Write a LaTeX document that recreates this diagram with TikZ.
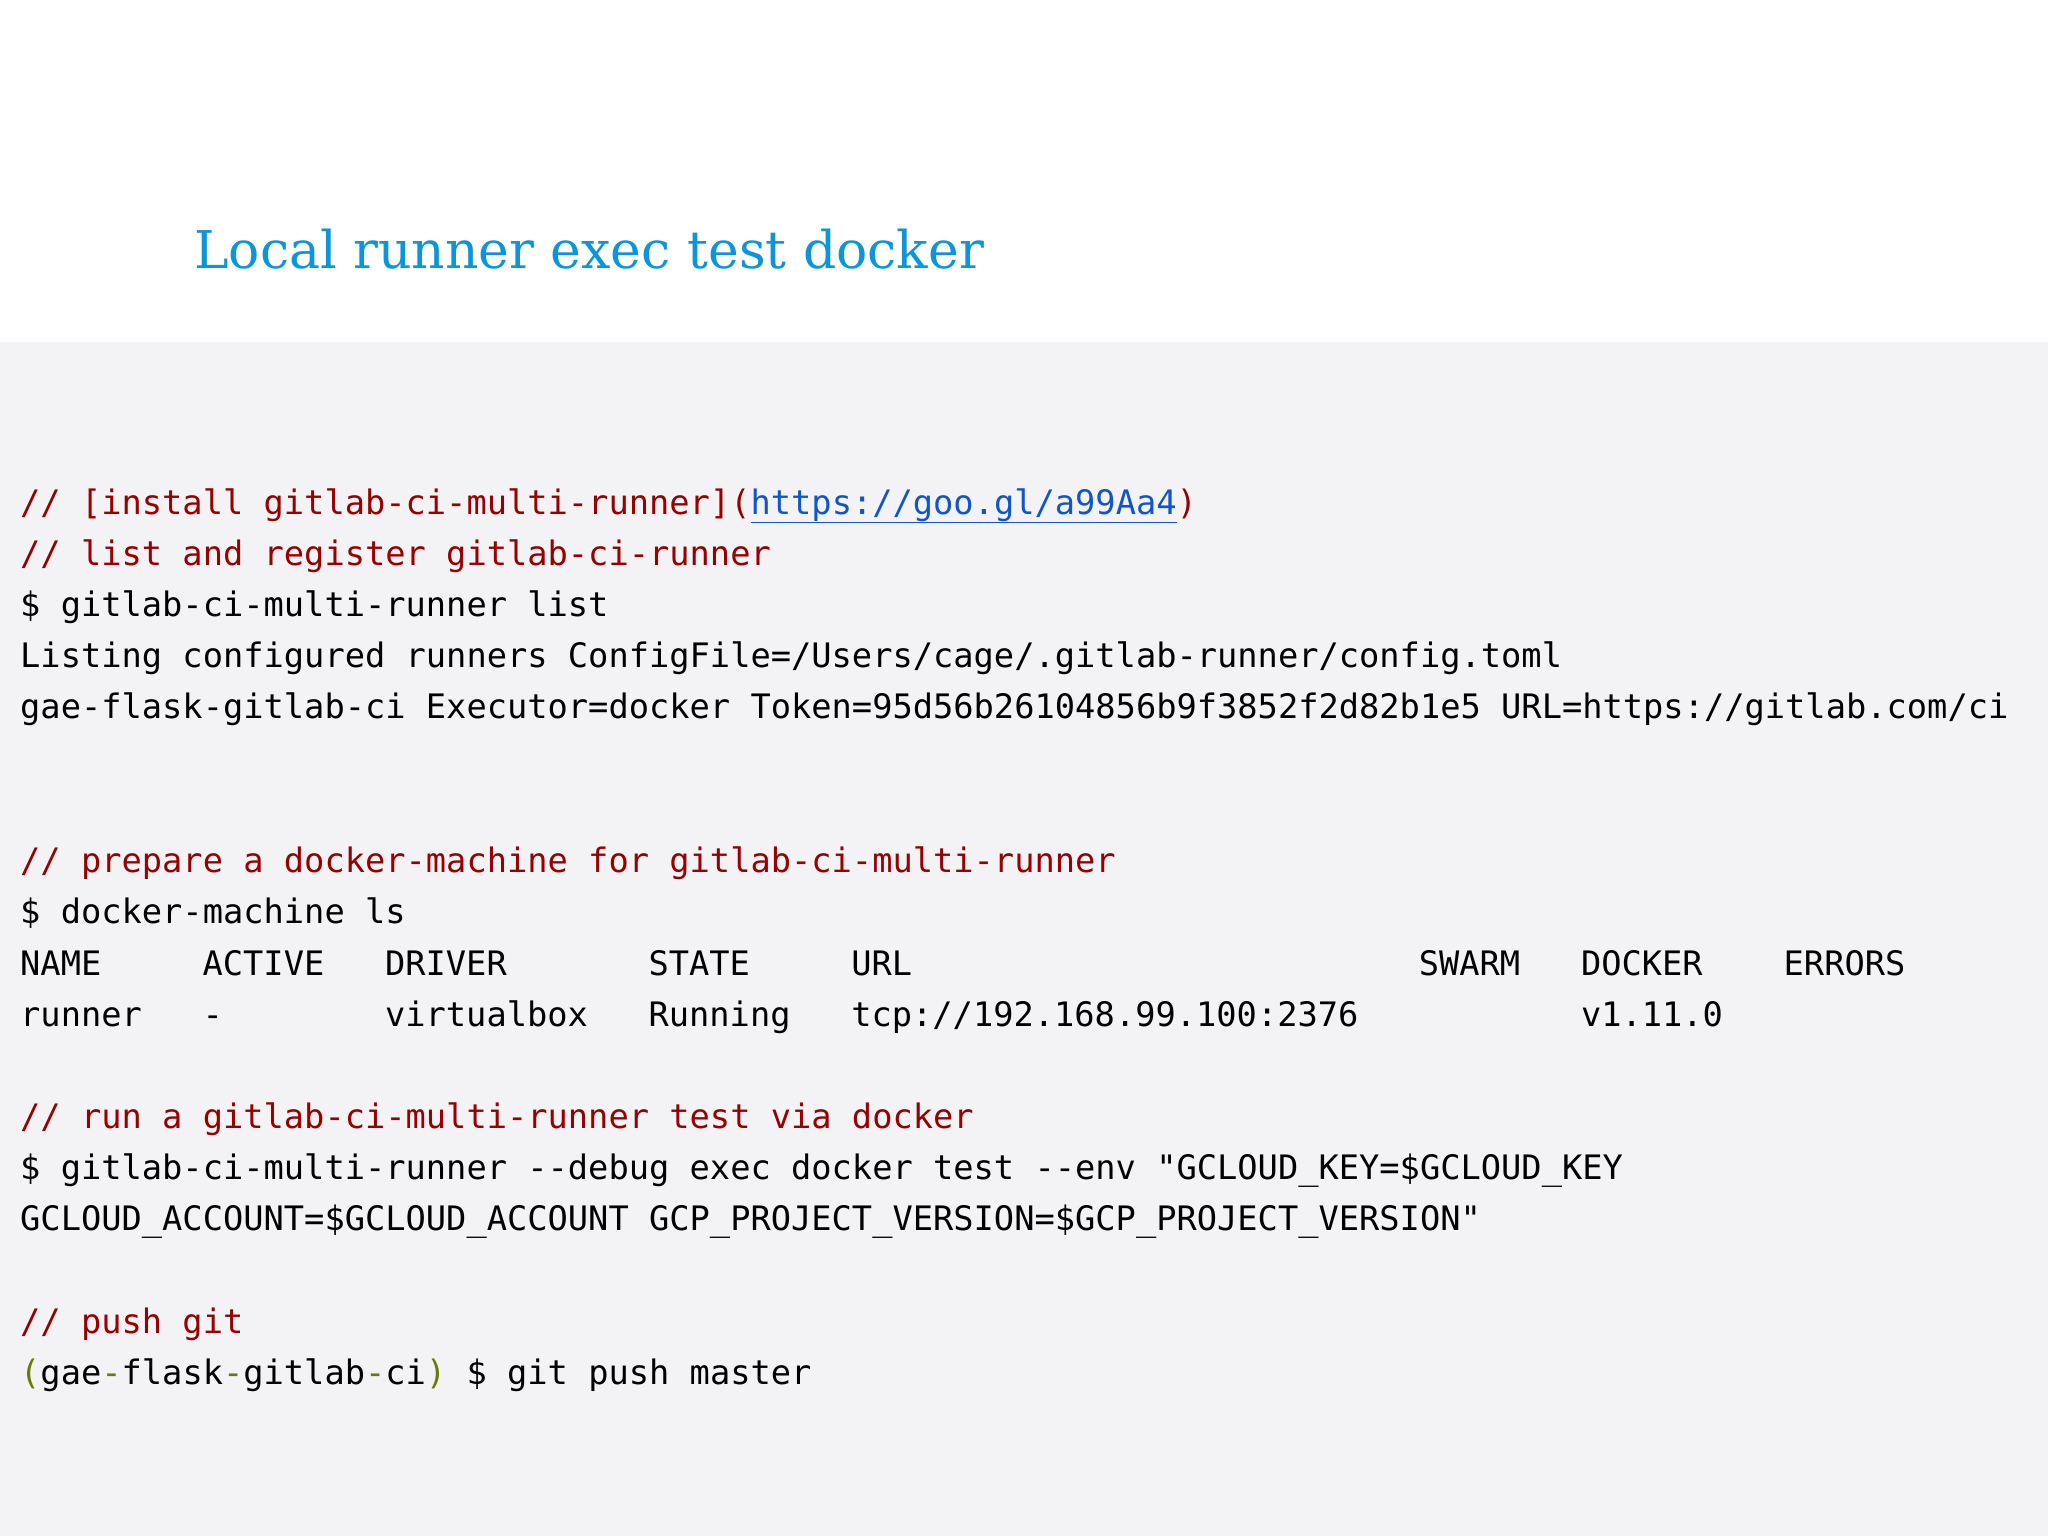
\documentclass[tikz,border=0pt]{standalone}
\usepackage{fontspec}
\newfontfamily\codefont{DejaVu Sans Mono}[Ligatures=NoCommon]
\newfontfamily\titlefont{DejaVu Serif}
\definecolor{bg}{HTML}{F3F3F5}
\definecolor{cm}{HTML}{990000}
\definecolor{lnk}{HTML}{1155CC}
\definecolor{ttl}{HTML}{0B96DC}
\definecolor{olv}{HTML}{6B7A00}
\begin{document}
\begin{tikzpicture}[x=1pt,y=1pt,
  code/.style={anchor=base west,inner sep=0pt,font=\codefont\fontsize{33.7}{40}\selectfont},
  cmt/.style={code,text=cm}]
\useasboundingbox (0,0) rectangle (2048,-1536);
\fill[white] (0,0) rectangle (2048,-342);
\fill[bg] (0,-342) rectangle (2048,-1536);
\node[anchor=base west,inner sep=0pt,text=ttl,font=\titlefont\fontsize{52}{60}\selectfont] (title) at (194,-268) {Local runner exec test docker};
\node[cmt] (l1) at (20,-514) {// [install gitlab-ci-multi-runner](\textcolor{lnk}{\underline{https://goo.gl/a99Aa4}})};
\node[cmt] (l2) at (20,-565) {// list and register gitlab-ci-runner};
\node[code] (l3) at (20,-616) {\$ gitlab-ci-multi-runner list};
\node[code] (l4) at (20,-667) {Listing configured runners ConfigFile=/Users/cage/.gitlab-runner/config.toml};
\node[code] (l5) at (20,-718) {gae-flask-gitlab-ci Executor=docker Token=95d56b26104856b9f3852f2d82b1e5 URL=https://gitlab.com/ci};
\node[cmt] (l6) at (20,-872) {// prepare a docker-machine for gitlab-ci-multi-runner};
\node[code] (l7) at (20,-923) {\$ docker-machine ls};
\foreach \c/\t [count=\i] in {0/NAME,9/ACTIVE,18/DRIVER,31/STATE,41/URL,69/SWARM,77/DOCKER,87/ERRORS}
  \node[code] (h\i) at (20+\c*20.27,-975) {\t};
\foreach \c/\t [count=\i] in {0/runner,9/-,18/virtualbox,31/Running,41/{tcp://192.168.99.100:2376},77/v1.11.0}
  \node[code] (r\i) at (20+\c*20.27,-1026) {\t};
\node[cmt] (l8) at (20,-1128) {// run a gitlab-ci-multi-runner test via docker};
\node[code] (l9) at (20,-1179) {\$ gitlab-ci-multi-runner -{}-debug exec docker test -{}-env "GCLOUD\_KEY=\$GCLOUD\_KEY};
\node[code] (l10) at (20,-1230) {GCLOUD\_ACCOUNT=\$GCLOUD\_ACCOUNT GCP\_PROJECT\_VERSION=\$GCP\_PROJECT\_VERSION"};
\node[cmt] (l11) at (20,-1333) {// push git};
\node[code] (l12) at (20,-1384) {\textcolor{olv}{(}gae\textcolor{olv}{-}flask\textcolor{olv}{-}gitlab\textcolor{olv}{-}ci\textcolor{olv}{)} \$ git push master};
\end{tikzpicture}
\end{document}
